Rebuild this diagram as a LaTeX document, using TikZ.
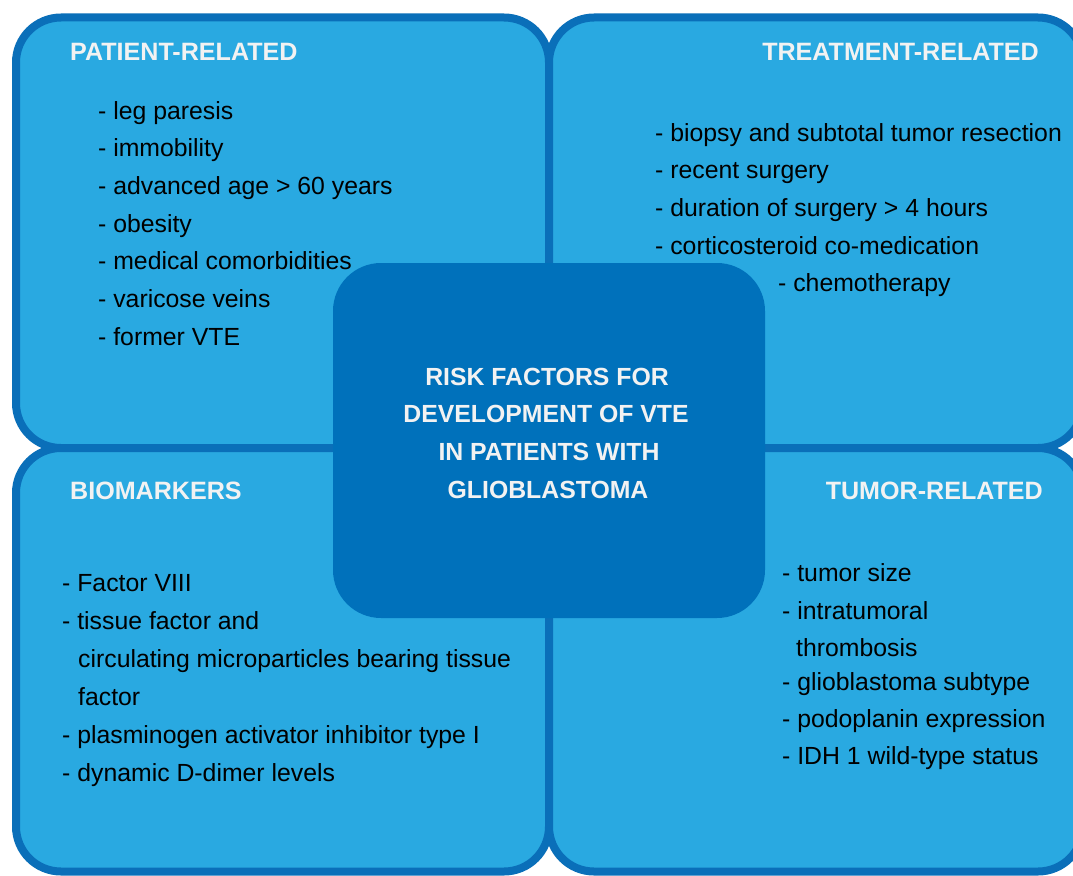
\documentclass[tikz,border=0pt]{standalone}
\usepackage{fontspec}
\setmainfont{Liberation Sans}
\definecolor{boxfill}{HTML}{29A9E1}
\definecolor{boxline}{HTML}{0A6FB9}
\definecolor{corefill}{HTML}{0071BB}
\definecolor{headtext}{HTML}{F2F2F2}
\begin{document}
\begin{tikzpicture}[x=1pt,y=-1pt,
  quad/.style={fill=boxfill,draw=boxline,line width=8pt,rounded corners=45pt},
  head/.style={inner sep=0pt,text=headtext,font=\fontsize{25.1}{37.8}\selectfont\bfseries},
  item/.style={inner sep=0pt,anchor=base west,text=black,font=\fontsize{24.8}{37.8}\selectfont},
  coretext/.style={inner sep=0pt,anchor=base,text=headtext,font=\fontsize{24.8}{37.8}\selectfont\bfseries}]
\useasboundingbox (0,0) rectangle (1073,875);
\fill[white] (0,0) rectangle (1073,875);
% quadrants
\draw[quad] (16,17.5) rectangle (549,448);
\draw[quad] (549,17.5) rectangle (1083,448);
\draw[quad] (16,448) rectangle (549,871.5);
\draw[quad] (549,448) rectangle (1083,871.5);
% center box
\fill[corefill,rounded corners=48pt] (333,263) rectangle (765,618);
% headings
\node[head,anchor=base west] (hpr) at (70,60) {PATIENT-RELATED};
\node[head,anchor=base east] (htr) at (1039,60) {TREATMENT-RELATED};
\node[head,anchor=base west] (hbm) at (70,499) {BIOMARKERS};
\node[head,anchor=base east] (htu) at (1043,499) {TUMOR-RELATED};
% patient-related
\node[item] (p1) at (98,119) {- leg paresis};
\node[item] (p2) at (98,156.5) {- immobility};
\node[item] (p3) at (98,194.3) {- advanced age > 60 years};
\node[item] (p4) at (98,232) {- obesity};
\node[item] (p5) at (98,269.8) {- medical comorbidities};
\node[item] (p6) at (98,307.5) {- varicose veins};
\node[item] (p7) at (98,345) {- former VTE};
% treatment-related
\node[item] (t1) at (655,141) {- biopsy and subtotal tumor resection};
\node[item] (t2) at (655,178.5) {- recent surgery};
\node[item] (t3) at (655,216.3) {- duration of surgery > 4 hours};
\node[item] (t4) at (655,254) {- corticosteroid co-medication};
\node[item] (t5) at (778,291.7) {- chemotherapy};
% biomarkers
\node[item] (b1) at (62,591) {- Factor VIII};
\node[item] (b2) at (62,629) {- tissue factor and};
\node[item] (b3) at (78,667) {circulating microparticles bearing tissue};
\node[item] (b4) at (78,705) {factor};
\node[item] (b5) at (62,743) {- plasminogen activator inhibitor type I};
\node[item] (b6) at (62,781) {- dynamic D-dimer levels};
% tumor-related
\node[item] (u1) at (782,581) {- tumor size};
\node[item] (u2) at (782,619) {- intratumoral};
\node[item] (u3) at (796,656) {thrombosis};
\node[item] (u4) at (782,690) {- glioblastoma subtype};
\node[item] (u5) at (782,727.5) {- podoplanin expression};
\node[item] (u6) at (782,764.5) {- IDH 1 wild-type status};
% center text
\node[coretext] (c1) at (547,385) {RISK FACTORS FOR};
\node[coretext] (c2) at (546,422.5) {DEVELOPMENT OF VTE};
\node[coretext] (c3) at (549,460.5) {IN PATIENTS WITH};
\node[coretext] (c4) at (548,498) {GLIOBLASTOMA};
\end{tikzpicture}
\end{document}
